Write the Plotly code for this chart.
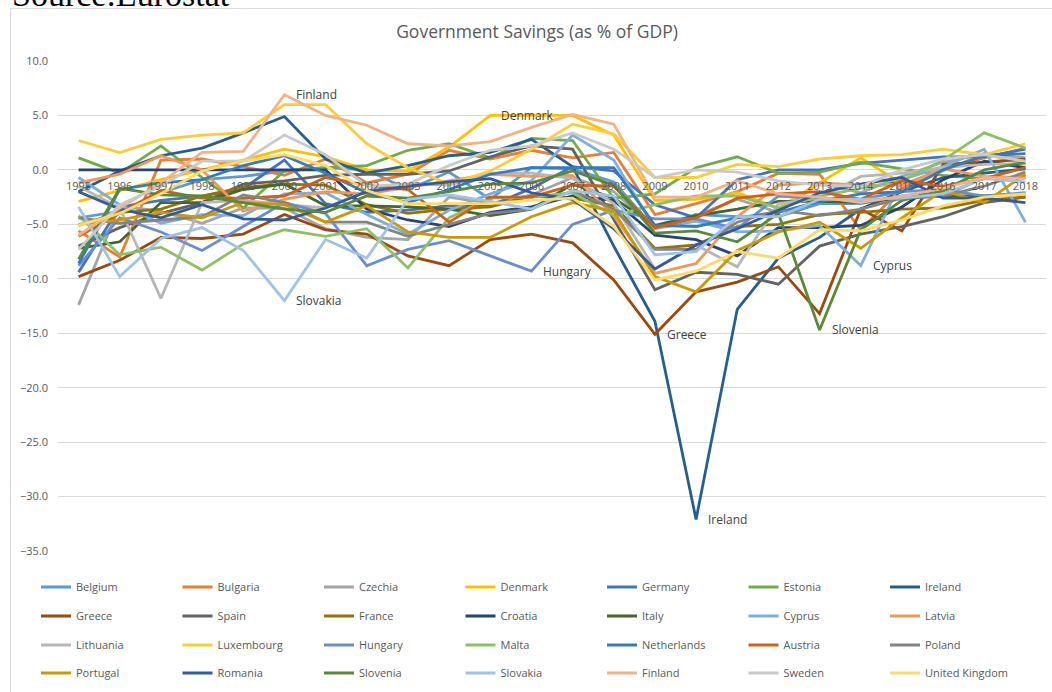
import plotly.graph_objects as go

years = [str(y) for y in range(1995, 2019)]

belgium = [-4.4,-3.8,-2.1,-0.9,-0.6,-0.1,0.2,0.0,-1.8,-0.2,-2.7,0.2,0.1,-1.1,-5.4,-4.1,-4.3,-4.3,-3.1,-3.1,-2.4,-2.4,-0.7,-0.7]
bulgaria = [-5.6,-8.0,0.9,1.0,0.3,-0.5,1.0,-1.2,-0.4,1.8,1.0,1.8,1.1,1.6,-4.1,-3.1,-2.0,-0.3,-0.4,-5.5,-1.7,0.1,1.1,2.0]
czechia = [-12.4,-3.3,-3.8,-4.9,-3.5,-3.5,-5.4,-6.2,-6.4,-2.5,-3.1,-2.3,-0.7,-2.0,-5.4,-4.2,-2.7,-3.9,-1.2,-2.1,-0.6,0.7,1.5,1.1]
denmark = [-2.9,-1.9,-0.9,0.0,0.9,1.9,1.2,0.0,-0.1,2.1,5.0,5.0,5.0,3.2,-2.8,-2.7,-2.1,-3.5,-1.2,1.1,-1.3,-0.1,1.5,0.5]
germany = [-9.4,-3.4,-2.8,-2.4,-1.7,0.9,-3.1,-3.9,-3.7,-3.3,-3.3,-1.7,0.3,-0.1,-3.2,-4.4,-0.9,0.0,0.0,0.6,0.9,1.2,1.2,1.9]
estonia = [1.1,-0.3,2.2,-0.7,-3.5,-0.1,0.2,0.4,1.8,2.4,1.1,2.9,2.7,-2.6,-2.2,0.2,1.2,-0.3,-0.2,0.7,0.1,-0.5,-0.8,-0.6]
ireland = [-2.0,-0.1,1.3,2.0,3.4,4.9,1.0,-0.3,0.4,1.3,1.6,2.8,0.3,-7.0,-13.9,-32.1,-12.8,-8.1,-6.2,-3.6,-2.0,-0.7,-0.3,0.1]
greece = [-9.8,-8.3,-6.2,-6.3,-5.9,-4.1,-5.5,-5.9,-7.9,-8.8,-6.4,-5.9,-6.7,-10.1,-15.1,-11.2,-10.3,-8.9,-13.2,-3.6,-5.6,0.5,0.7,1.0]
spain = [-7.0,-5.3,-4.0,-3.0,-1.3,-1.0,-0.5,-0.4,-0.4,-0.1,1.2,2.2,1.9,-4.6,-11.0,-9.4,-9.6,-10.5,-7.0,-5.9,-5.2,-4.3,-3.0,-2.5]
france = [-5.1,-3.9,-3.6,-2.4,-1.6,-1.3,-1.4,-3.2,-4.0,-3.6,-3.4,-2.4,-2.6,-3.3,-7.2,-6.9,-5.2,-5.0,-4.1,-3.9,-3.6,-3.5,-2.8,-2.5]
croatia = [0.0,0.0,0.0,0.0,0.0,0.0,0.0,-3.6,-4.6,-5.2,-3.9,-3.4,-2.4,-2.8,-6.0,-6.4,-7.9,-5.3,-5.3,-5.1,-3.4,-0.9,0.8,0.2]
italy = [-7.2,-6.6,-3.0,-3.0,-1.8,-1.3,-3.3,-3.3,-3.4,-3.6,-4.2,-3.6,-1.3,-2.6,-5.1,-4.2,-3.6,-2.9,-2.9,-3.0,-2.6,-2.4,-2.4,-2.2]
cyprus = [-0.7,-3.2,-4.9,-4.1,-4.2,-2.2,-2.1,-4.1,-5.9,-3.7,-2.2,-1.0,3.2,0.9,-5.4,-4.7,-5.7,-5.6,-5.1,-8.8,-0.9,0.3,1.9,-4.8]
latvia = [-1.2,-0.4,1.3,0.0,-3.8,-2.7,-2.0,-2.2,-1.6,-1.0,-0.4,-0.6,-0.5,-4.2,-9.5,-8.6,-4.3,-1.4,-1.2,-1.4,-1.4,0.1,-0.6,-0.7]
lithuania = [-1.5,-3.5,-11.8,-3.0,-2.8,-3.2,-3.5,-1.9,-1.3,-1.4,-0.3,-0.3,-0.8,-3.1,-9.1,-6.9,-8.9,-3.1,-2.6,-0.6,-0.3,0.2,0.5,0.6]
luxembourg = [2.7,1.6,2.8,3.2,3.4,6.0,6.0,2.4,0.2,-1.3,-0.1,1.9,4.2,3.3,-0.7,-0.7,0.5,0.3,1.0,1.3,1.4,1.9,1.4,2.4]
hungary = [-8.8,-4.4,-5.7,-7.4,-5.2,-3.0,-4.0,-8.8,-7.3,-6.5,-7.9,-9.3,-5.0,-3.7,-4.5,-4.5,-5.4,-2.4,-2.6,-2.7,-2.0,-1.8,-2.4,-2.1]
malta = [-4.2,-7.8,-7.1,-9.2,-6.8,-5.5,-6.1,-5.4,-9.0,-4.4,-2.6,-2.5,-2.1,-4.2,-3.2,-2.4,-2.4,-3.5,-2.4,-1.7,-1.0,0.9,3.4,2.0]
netherlands = [-8.6,-1.8,-1.2,-0.9,0.4,1.3,-0.3,-2.1,-3.0,-1.8,-0.4,0.2,0.2,0.2,-5.1,-5.2,-4.4,-3.9,-2.9,-2.2,-2.0,0.0,1.3,1.5]
austria = [-6.1,-4.0,-1.9,-2.6,-2.6,-2.4,-0.7,-1.4,-1.8,-4.8,-2.5,-2.5,-1.4,-1.5,-5.3,-4.4,-2.6,-2.2,-2.0,-2.7,-1.0,-1.5,-0.8,0.2]
poland = [-4.4,-4.9,-4.6,-4.3,-2.3,-3.0,-4.8,-4.8,-6.1,-5.0,-4.0,-3.6,-1.9,-3.6,-7.3,-7.3,-4.8,-3.7,-4.2,-3.6,-2.6,-2.4,-1.5,-0.2]
portugal = [-5.0,-4.6,-3.9,-4.4,-3.0,-3.2,-4.8,-3.3,-5.7,-6.2,-6.2,-4.3,-3.0,-3.8,-9.8,-11.2,-7.4,-5.7,-4.8,-7.2,-4.4,-1.9,-3.0,-0.4]
romania = [-2.0,-3.6,-4.4,-3.2,-4.5,-4.6,-3.5,-2.0,-1.5,-1.1,-0.8,-2.1,-2.7,-5.4,-9.1,-6.9,-5.4,-3.7,-2.1,-1.3,-0.7,-2.6,-2.6,-3.0]
slovenia = [-8.2,-1.7,-2.3,-2.4,-3.0,-3.6,-3.9,-2.4,-2.6,-2.0,-1.3,-1.2,-0.1,-1.4,-5.8,-5.6,-6.6,-4.0,-14.7,-5.5,-2.8,-1.9,0.0,0.7]
slovakia = [-3.4,-9.8,-6.3,-5.3,-7.4,-12.0,-6.4,-8.1,-2.7,-2.3,-2.9,-3.6,-1.9,-2.4,-7.8,-7.5,-4.3,-4.3,-2.7,-2.7,-2.6,-2.2,-0.8,-1.1]
finland = [-6.0,-3.5,-1.2,1.6,1.7,6.9,5.0,4.1,2.4,2.2,2.6,3.9,5.1,4.2,-2.5,-2.5,-1.0,-2.2,-2.5,-3.0,-2.4,-1.7,-0.7,-0.8]
sweden = [-7.3,-3.2,-1.5,0.8,0.8,3.2,1.4,-1.5,-1.3,0.4,1.8,2.2,3.4,1.9,-0.7,0.0,-0.2,-1.0,-1.4,-1.5,0.0,1.0,1.4,0.8]
united_kingdom = [-5.1,-4.0,-2.2,-0.1,0.8,1.4,0.4,-1.9,-3.1,-3.1,-3.1,-2.8,-2.6,-5.2,-10.1,-9.3,-7.5,-8.1,-5.5,-5.6,-4.6,-3.3,-2.5,-2.2]

countries = ["Belgium","Bulgaria","Czechia","Denmark","Germany","Estonia","Ireland",
             "Greece","Spain","France","Croatia","Italy","Cyprus","Latvia",
             "Lithuania","Luxembourg","Hungary","Malta","Netherlands","Austria","Poland",
             "Portugal","Romania","Slovenia","Slovakia","Finland","Sweden","United Kingdom"]
series = [belgium,bulgaria,czechia,denmark,germany,estonia,ireland,
          greece,spain,france,croatia,italy,cyprus,latvia,
          lithuania,luxembourg,hungary,malta,netherlands,austria,poland,
          portugal,romania,slovenia,slovakia,finland,sweden,united_kingdom]
colors = ["#5B9BD5","#ED7D31","#A5A5A5","#FFC000","#4472C4","#70AD47","#255E91",
          "#9E480E","#636363","#997300","#264478","#43682B","#7CAFDD","#F1975A",
          "#B7B7B7","#FFCD33","#698ED0","#8CC168","#327DC2","#D26012","#848484",
          "#CC9A00","#335AA1","#5A8A39","#9DC3E6","#F4B183","#C9C9C9","#FFD966"]

# data labels: (country, year, position)
labels = [("Finland","2000","right"),("Slovakia","2000","right"),("Denmark","2006","center"),
          ("Hungary","2006","right"),("Greece","2009","right"),("Ireland","2010","right"),
          ("Slovenia","2013","right"),("Cyprus","2014","right")]

W, H = 1052, 692
ml, mr, mt, mb = 58, 6, 61, 140
pw, ph = W - ml - mr, H - mt - mb
def px_x(x): return (x - ml) / pw
def px_y(y): return (H - mb - y) / ph

GRAY = "#595959"
FONT = "Open Sans"

fig = go.Figure()
legend_names = ["legend", "legend2", "legend3", "legend4"]
for i, (name, vals, col) in enumerate(zip(countries, series, colors)):
    fig.add_trace(go.Scatter(
        x=years, y=vals, name=name, mode="lines",
        line=dict(color=col, width=2.8),
        legend=legend_names[i // 7],
    ))

annotations = []
for cname, yr, pos in labels:
    vals = series[countries.index(cname)]
    v = vals[years.index(yr)]
    annotations.append(dict(
        x=years.index(yr), y=v, xref="x", yref="y", text=cname, showarrow=False,
        xanchor="left" if pos == "right" else "center", yanchor="middle",
        xshift=10 if pos == "right" else -4,
        font=dict(family=FONT, size=12, color="#404040")))

annotations.append(dict(
    x=px_x(10), y=px_y(15), xref="paper", yref="paper", text="Source:Eurostat",
    showarrow=False, xanchor="left", yanchor="bottom",
    font=dict(family="Liberation Serif", size=34, color="#000000")))

layout_legends = {}
row_y = [587, 616, 645, 673]
for k, ln in enumerate(legend_names):
    layout_legends[ln] = dict(
        orientation="h", x=px_x(36), xanchor="left", y=px_y(row_y[k]), yanchor="middle",
        entrywidth=96.5, entrywidthmode="pixels", itemwidth=30,
        font=dict(family=FONT, size=11, color=GRAY), bgcolor="rgba(0,0,0,0)")

fig.update_layout(
    width=W, height=H,
    margin=dict(l=ml, r=mr, t=mt, b=mb),
    paper_bgcolor="white", plot_bgcolor="white",
    title=dict(text="Government Savings (as % of GDP)", x=px_x(537), xref="paper", xanchor="center",
               y=1 - 32 / H, yanchor="middle",
               font=dict(family=FONT, size=17.5, color=GRAY)),
    xaxis=dict(type="category", range=[-0.5, 23.5], showgrid=False, zeroline=False,
               anchor="free", position=35 / 45, showline=False, ticks="",
               tickfont=dict(family=FONT, size=11, color=GRAY), ticklabelstandoff=8),
    yaxis=dict(range=[-35, 10], dtick=5, tick0=0, tickformat=".1f", showgrid=True,
               gridcolor="#D9D9D9", gridwidth=1, zeroline=False, showline=False, ticks="",
               tickfont=dict(family=FONT, size=11, color=GRAY), ticklabelstandoff=9),
    annotations=annotations,
    shapes=[dict(type="rect", xref="paper", yref="paper",
                 x0=px_x(10.5), x1=px_x(1070), y0=px_y(710), y1=px_y(8.5),
                 line=dict(color="#D9D9D9", width=1), fillcolor="rgba(0,0,0,0)", layer="below")],
    **layout_legends,
)

fig.write_html("out.html", config={"displayModeBar": False},
               post_script="document.body.style.margin='0';")
